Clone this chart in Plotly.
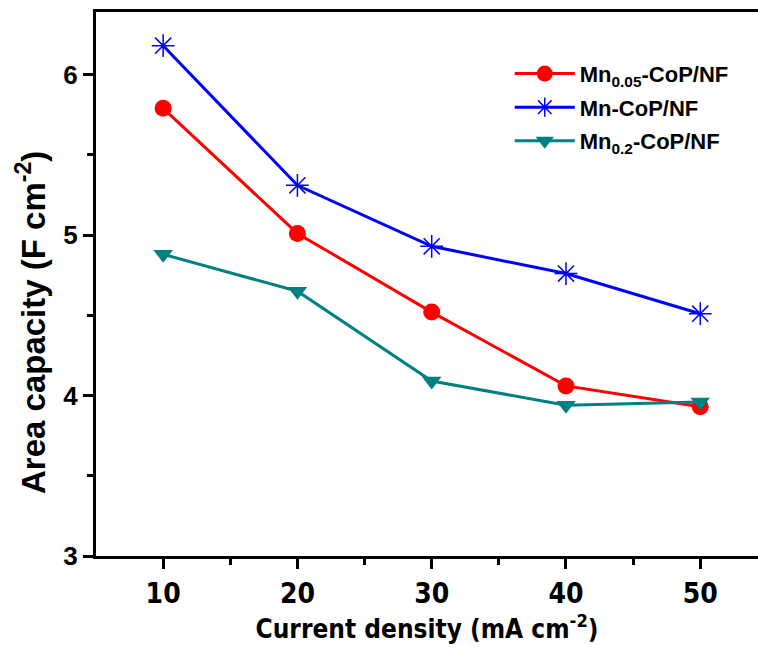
import plotly.graph_objects as go

current_density = [10, 20, 30, 40, 50]
mn005 = [5.79, 5.01, 4.52, 4.06, 3.93]
mn_cop = [6.18, 5.31, 4.93, 4.76, 4.51]
mn02 = [4.88, 4.65, 4.09, 3.94, 3.96]

names = ["Mn<sub>0.05</sub>-CoP/NF", "Mn-CoP/NF", "Mn<sub>0.2</sub>-CoP/NF"]
y_title = "Area capacity (F cm<sup>-2</sup>)"
x_title = "Current density (mA cm<sup>-2</sup>)"

NARROW = "DejaVu Sans Condensed, Liberation Sans"
SANS = "Liberation Sans"

fig = go.Figure()
fig.add_trace(go.Scatter(x=current_density, y=mn005, name=names[0], mode="lines+markers",
                         legendgroup="a",
                         line=dict(color="#ff0000", width=3),
                         marker=dict(symbol="circle", size=17, color="#ff0000")))
fig.add_trace(go.Scatter(x=current_density, y=mn_cop, name=names[1], mode="lines+markers",
                         legendgroup="b",
                         line=dict(color="#0000ff", width=3),
                         marker=dict(symbol="asterisk-open", size=19, color="#0000ff",
                                     line=dict(color="#2222ee", width=1.5))))
fig.add_trace(go.Scatter(x=current_density, y=mn02, name=names[2], mode="lines+markers",
                         legendgroup="c",
                         line=dict(color="#008080", width=3),
                         marker=dict(symbol="triangle-down", size=17, color="#008080")))

fig.update_layout(
    width=758, height=652,
    margin=dict(l=96, r=0, t=12, b=96),
    plot_bgcolor="white", paper_bgcolor="white",
    showlegend=True,
    legend=dict(x=0.625, y=0.925, xanchor="left", yanchor="top",
                font=dict(family=SANS, size=22, color="black", weight="bold"),
                itemwidth=60, tracegroupgap=2, bgcolor="rgba(0,0,0,0)"),
    xaxis=dict(range=[5, 54.3], tickvals=[10, 20, 30, 40, 50],
               showline=True, linecolor="black", linewidth=3, mirror=True,
               ticks="outside", ticklen=10, tickwidth=3, tickcolor="black",
               minor=dict(tickvals=[15, 25, 35, 45], ticks="outside", ticklen=6, tickwidth=3, tickcolor="black"),
               showgrid=False, zeroline=False,
               tickfont=dict(family=NARROW, size=28, color="black", weight="bold"),
               title=dict(text=x_title, standoff=10,
                          font=dict(family=NARROW, size=26, color="black", weight="bold"))),
    yaxis=dict(range=[3, 6.39], tickvals=[3, 4, 5, 6],
               showline=True, linecolor="black", linewidth=3, mirror=False,
               ticks="outside", ticklen=10, tickwidth=3, tickcolor="black",
               minor=dict(tickvals=[3.5, 4.5, 5.5], ticks="outside", ticklen=6, tickwidth=3, tickcolor="black"),
               showgrid=False, zeroline=False,
               tickfont=dict(family=SANS, size=26, color="black", weight="bold")),
    annotations=[dict(text=y_title, textangle=-90, xref="paper", yref="paper",
                      x=(31 - 96) / 662, y=(556 - 323) / 544, xanchor="center", yanchor="middle",
                      showarrow=False,
                      font=dict(family=SANS, size=33, color="black", weight="bold"))],
)

fig.write_html("out.html")
